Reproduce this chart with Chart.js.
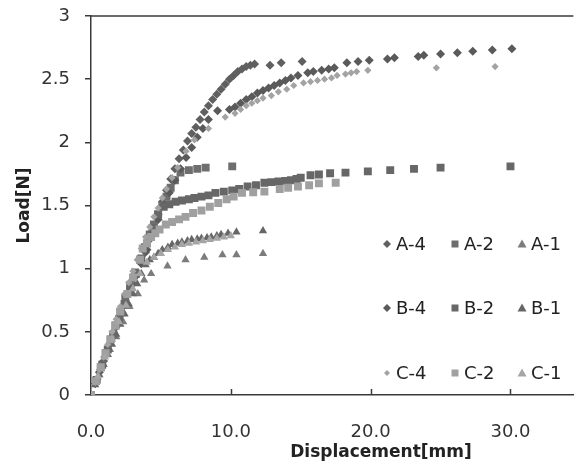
<!DOCTYPE html>
<html>
<head>
<meta charset="utf-8">
<script src="https://cdn.jsdelivr.net/npm/chart.js@4.4.1/dist/chart.umd.min.js"></script>
<style>
  html, body { margin: 0; padding: 0; background: #fff; }
  #wrap { width: 579px; height: 463px; position: relative; }
</style>
</head>
<body>
<div id="wrap"><canvas id="grafico"></canvas></div>
<script>
// series labels
const seriesNames = ["A-4", "A-2", "A-1", "B-4", "B-2", "B-1", "C-4", "C-2", "C-1"];

// displacement [mm] / load [N]
const a4X = [0, 0.3, 0.6, 0.9, 1.2, 1.5, 1.8, 2.1, 2.4, 2.7, 3.0, 3.3, 3.6, 3.9, 4.2, 4.5, 4.8, 5.1, 5.4, 5.7, 6.0, 6.3, 6.6, 6.9, 7.2, 7.5, 7.8, 8.1, 8.4, 8.7, 9.0, 9.3, 9.6, 9.9, 10.2, 10.5, 10.8, 11.1, 11.4, 11.7, 12.8, 13.6, 15.1];
const a4Y = [0, 0.09, 0.18, 0.27, 0.36, 0.45, 0.54, 0.63, 0.72, 0.8, 0.88, 0.96, 1.04, 1.13, 1.23, 1.33, 1.43, 1.53, 1.62, 1.71, 1.79, 1.87, 1.94, 2.01, 2.07, 2.12, 2.18, 2.24, 2.29, 2.34, 2.38, 2.42, 2.46, 2.5, 2.53, 2.56, 2.58, 2.6, 2.61, 2.62, 2.61, 2.63, 2.64];

const a2X = [0, 0.35, 0.7, 1.05, 1.4, 1.75, 2.1, 2.45, 2.8, 3.15, 3.5, 3.85, 4.2, 4.5, 4.8, 5.1, 5.4, 5.7, 6.0, 6.4, 7.0, 7.6, 8.2, 10.1];
const a2Y = [0, 0.11, 0.22, 0.33, 0.44, 0.55, 0.66, 0.77, 0.87, 0.97, 1.07, 1.17, 1.27, 1.35, 1.43, 1.5, 1.57, 1.64, 1.7, 1.76, 1.78, 1.79, 1.8, 1.81];

const a1X = [0, 0.4, 0.87, 1.35, 1.8, 2.3, 2.75, 3.35, 3.8, 4.3, 5.47, 6.76, 8.1, 9.4, 10.4, 12.3];
const a1Y = [0, 0.12, 0.24, 0.36, 0.46, 0.58, 0.7, 0.8, 0.91, 0.96, 1.02, 1.07, 1.09, 1.11, 1.11, 1.12];

const b4X = [0, 0.4, 0.8, 1.2, 1.6, 2.0, 2.4, 2.8, 3.2, 3.6, 4.0, 4.4, 4.8, 5.2, 5.6, 6.0, 6.4, 6.8, 7.2, 7.6, 8.0, 8.4, 9.05, 9.9, 10.3, 10.7, 11.1, 11.5, 11.9, 12.3, 12.7, 13.1, 13.5, 13.9, 14.3, 14.8, 15.5, 15.9, 16.5, 17.0, 17.4, 18.3, 19.1, 19.9, 21.2, 21.7, 23.4, 23.8, 25.0, 26.2, 27.3, 28.7, 30.1];
const b4Y = [0, 0.12, 0.24, 0.36, 0.48, 0.6, 0.71, 0.83, 0.94, 1.04, 1.15, 1.27, 1.39, 1.5, 1.6, 1.7, 1.79, 1.88, 1.96, 2.04, 2.11, 2.18, 2.25, 2.26, 2.28, 2.31, 2.34, 2.36, 2.39, 2.41, 2.43, 2.45, 2.47, 2.49, 2.51, 2.53, 2.55, 2.56, 2.57, 2.58, 2.59, 2.63, 2.64, 2.65, 2.66, 2.67, 2.68, 2.69, 2.7, 2.71, 2.72, 2.73, 2.74];

const b2X = [0, 0.4, 0.8, 1.2, 1.6, 2.0, 2.4, 2.8, 3.2, 3.6, 4.0, 4.4, 4.8, 5.2, 5.6, 6.05, 6.5, 7.0, 7.4, 7.9, 8.4, 8.9, 9.5, 10.1, 10.6, 11.2, 11.8, 12.4, 12.9, 13.4, 13.9, 14.3, 14.7, 15.0, 15.7, 16.3, 17.1, 18.2, 19.8, 21.4, 23.1, 25.0, 30.0];
const b2Y = [0, 0.12, 0.24, 0.36, 0.48, 0.6, 0.72, 0.84, 0.96, 1.08, 1.2, 1.32, 1.43, 1.49, 1.51, 1.53, 1.54, 1.55, 1.56, 1.57, 1.58, 1.6, 1.61, 1.62, 1.63, 1.65, 1.66, 1.68, 1.685, 1.69, 1.695, 1.7, 1.71, 1.72, 1.74, 1.745, 1.755, 1.76, 1.77, 1.78, 1.79, 1.8, 1.81];

const b1X = [0, 0.3, 0.6, 0.9, 1.2, 1.5, 1.8, 2.1, 2.4, 2.7, 3.0, 3.3, 3.6, 3.9, 4.2, 4.5, 4.8, 5.1, 5.5, 5.8, 6.2, 6.5, 6.9, 7.2, 7.6, 7.9, 8.3, 8.6, 9.0, 9.3, 9.8, 10.4, 12.3];
const b1Y = [0, 0.08, 0.16, 0.24, 0.32, 0.4, 0.48, 0.56, 0.64, 0.72, 0.8, 0.88, 0.96, 1.03, 1.07, 1.09, 1.12, 1.15, 1.17, 1.19, 1.2, 1.21, 1.22, 1.23, 1.235, 1.24, 1.245, 1.25, 1.26, 1.27, 1.28, 1.29, 1.3];

const c4X = [0, 0.3, 0.6, 0.9, 1.2, 1.5, 1.8, 2.1, 2.4, 2.7, 3.0, 3.3, 3.6, 3.9, 4.2, 4.5, 4.8, 5.1, 5.4, 5.8, 6.2, 6.8, 7.4, 8.4, 9.6, 10.3, 10.7, 11.1, 11.5, 11.9, 12.3, 12.9, 13.4, 14.0, 14.5, 15.2, 15.7, 16.2, 16.7, 17.2, 17.6, 18.2, 18.6, 19.0, 19.8, 24.7, 28.9];
const c4Y = [0, 0.1, 0.2, 0.3, 0.4, 0.5, 0.6, 0.7, 0.8, 0.89, 0.98, 1.07, 1.16, 1.25, 1.33, 1.41, 1.48, 1.56, 1.63, 1.72, 1.8, 1.93, 2.02, 2.11, 2.2, 2.23, 2.26, 2.29, 2.31, 2.33, 2.35, 2.37, 2.4, 2.42, 2.45, 2.47, 2.48, 2.49, 2.5, 2.51, 2.53, 2.54, 2.55, 2.56, 2.57, 2.59, 2.6];

const c2X = [0, 0.35, 0.7, 1.05, 1.4, 1.75, 2.1, 2.6, 3.0, 3.5, 3.7, 4.0, 4.3, 4.6, 4.9, 5.35, 5.8, 6.3, 6.76, 7.3, 7.9, 8.5, 9.1, 9.7, 10.2, 10.8, 11.6, 12.4, 13.5, 14.1, 14.8, 15.6, 16.3, 17.5];
const c2Y = [0, 0.11, 0.22, 0.33, 0.44, 0.55, 0.66, 0.8, 0.93, 1.07, 1.16, 1.2, 1.25, 1.28, 1.31, 1.35, 1.37, 1.39, 1.41, 1.44, 1.46, 1.49, 1.52, 1.55, 1.57, 1.6, 1.605, 1.61, 1.63, 1.64, 1.65, 1.66, 1.675, 1.68];

const c1X = [0, 0.5, 1.0, 1.5, 2.0, 2.5, 3.0, 3.5, 4.0, 4.5, 5.0, 5.5, 6.0, 6.5, 7.0, 7.5, 8.0, 8.5, 9.0, 9.5, 10.0];
const c1Y = [0, 0.15, 0.3, 0.44, 0.58, 0.71, 0.84, 0.96, 1.05, 1.09, 1.12, 1.15, 1.17, 1.19, 1.2, 1.21, 1.22, 1.23, 1.24, 1.25, 1.26];

const xTicks = [0, 10, 20, 30];
const yTicks = [0, 0.5, 1, 1.5, 2, 2.5, 3];

const font = "'DejaVu Sans', Verdana, sans-serif";

function pontos(xs, ys) {
  return xs.map((x, i) => ({ x: x, y: ys[i] }));
}

const estilos = [
  { estilo: "rectRot", cor: "#606060", raio: 4.5 },
  { estilo: "rect", cor: "#6e6e6e", raio: 5.6 },
  { estilo: "triangle", cor: "#7c7c7c", raio: 4.8 },
  { estilo: "rectRot", cor: "#5a5a5a", raio: 4.5 },
  { estilo: "rect", cor: "#676767", raio: 5.6 },
  { estilo: "triangle", cor: "#666666", raio: 4.8 },
  { estilo: "rectRot", cor: "#a3a3a3", raio: 3.6 },
  { estilo: "rect", cor: "#a0a0a0", raio: 5.6 },
  { estilo: "triangle", cor: "#a5a5a5", raio: 4.8 }
];

const dadosX = [a4X, a2X, a1X, b4X, b2X, b1X, c4X, c2X, c1X];
const dadosY = [a4Y, a2Y, a1Y, b4Y, b2Y, b1Y, c4Y, c2Y, c1Y];

const datasets = seriesNames.map((nome, i) => ({
  label: nome,
  data: pontos(dadosX[i], dadosY[i]),
  pointStyle: estilos[i].estilo,
  pointRadius: estilos[i].raio,
  pointBackgroundColor: estilos[i].cor,
  pointBorderColor: estilos[i].cor,
  pointBorderWidth: 0,
  showLine: false,
  order: 9 - i
}));

// frame, inside x ticks, x title and the 3x3 legend
const extras = {
  id: "extras",
  afterDraw(chart) {
    const ctx = chart.ctx;
    const area = chart.chartArea;
    const sx = chart.scales.x;
    ctx.save();
    ctx.strokeStyle = "#3a3a3a";
    ctx.lineWidth = 1.5;
    ctx.beginPath();
    ctx.moveTo(area.left, area.top);
    ctx.lineTo(area.right, area.top);
    ctx.stroke();
    xTicks.forEach(v => {
      if (v === 0) return;
      const px = Math.round(sx.getPixelForValue(v)) + 0.5;
      ctx.beginPath();
      ctx.moveTo(px, area.bottom);
      ctx.lineTo(px, area.bottom - 6);
      ctx.stroke();
    });

    ctx.fillStyle = "#222";
    ctx.font = "bold 17px " + font;
    ctx.textAlign = "center";
    ctx.textBaseline = "middle";
    ctx.fillText("Displacement[mm]", 381, 453);

    const linhas = [244, 308, 373];
    const colX = [387, 455, 522];
    ctx.font = "18px " + font;
    ctx.textAlign = "left";
    seriesNames.forEach((nome, i) => {
      const lin = Math.floor(i / 3);
      const col = i % 3;
      const x = colX[col];
      const y = linhas[lin];
      const e = estilos[i];
      ctx.fillStyle = e.cor;
      ctx.beginPath();
      if (e.estilo === "rectRot") {
        const r = e.raio === 3.6 ? 3 : 4;
        ctx.moveTo(x - r, y);
        ctx.lineTo(x, y - r);
        ctx.lineTo(x + r, y);
        ctx.lineTo(x, y + r);
      } else if (e.estilo === "rect") {
        ctx.rect(x - 3.5, y - 3.5, 7, 7);
      } else {
        ctx.moveTo(x, y - 4.5);
        ctx.lineTo(x + 4.5, y + 3.5);
        ctx.lineTo(x - 4.5, y + 3.5);
      }
      ctx.closePath();
      ctx.fill();
      ctx.fillStyle = "#222";
      ctx.fillText(nome, x + 9, y + 1);
    });
    ctx.restore();
  }
};

new Chart(document.getElementById("grafico").getContext("2d"), {
  type: "scatter",
  data: { datasets: datasets },
  options: {
    responsive: true,
    maintainAspectRatio: false,
    animation: false,
    layout: { padding: { top: 16, right: 0, left: 0, bottom: 0 } },
    plugins: {
      legend: { display: false },
      tooltip: { enabled: false }
    },
    scales: {
      x: {
        type: "linear",
        min: 0,
        max: 34.5,
        afterBuildTicks: s => { s.ticks = xTicks.map(v => ({ value: v })); },
        afterFit: s => { s.height = 68; s.paddingLeft = 0; s.paddingRight = 0; },
        grid: { display: false },
        border: { display: true, color: "#3a3a3a", width: 1.5 },
        ticks: {
          padding: 19,
          color: "#333",
          font: { family: font, size: 18 },
          callback: v => Number(v).toFixed(1)
        }
      },
      y: {
        min: 0,
        max: 3,
        afterBuildTicks: s => { s.ticks = yTicks.map(v => ({ value: v })); },
        afterFit: s => { s.width = 91; s.paddingTop = 0; s.paddingBottom = 0; },
        grid: { drawOnChartArea: false, tickLength: 6, color: "#3a3a3a", lineWidth: 1.5 },
        border: { display: true, color: "#3a3a3a", width: 1.5 },
        ticks: {
          padding: 15,
          color: "#333",
          font: { family: font, size: 18 },
          callback: v => String(v)
        },
        title: {
          display: true,
          text: "Load[N]",
          color: "#222",
          font: { family: font, size: 17, weight: "bold" },
          padding: { top: 14, bottom: 0 }
        }
      }
    }
  },
  plugins: [extras]
});
</script>
</body>
</html>
